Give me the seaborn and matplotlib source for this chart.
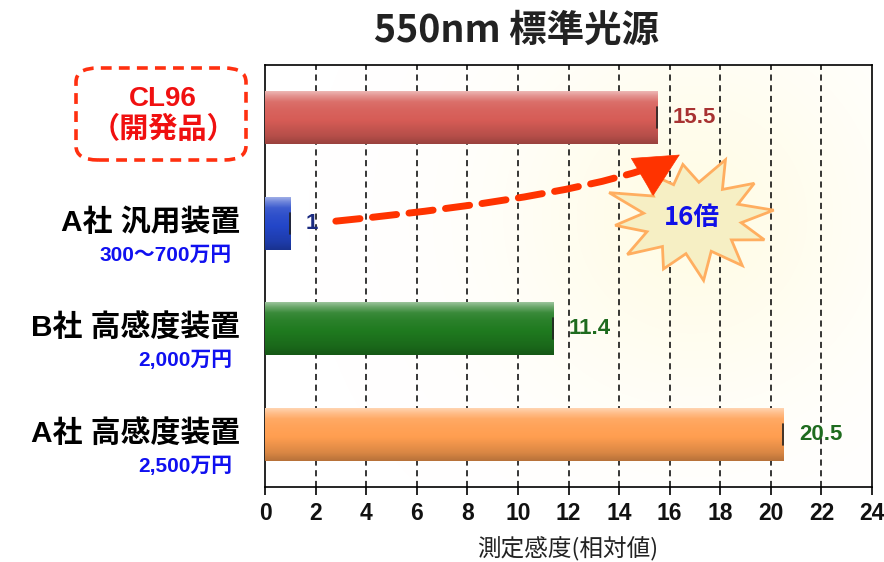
import numpy as np
import pandas as pd
import matplotlib
matplotlib.use("Agg")
import matplotlib.pyplot as plt
import matplotlib.colors as mcolors
import matplotlib.transforms as mtransforms
from matplotlib.patches import FancyBboxPatch, FancyArrowPatch, Polygon
from matplotlib.path import Path
import seaborn as sns

# ---- data ----
devices = ["CL96（開発品）", "A社 汎用装置", "B社 高感度装置", "A社 高感度装置"]
main_labels = ["", "A社 汎用装置", "B社 高感度装置", "A社 高感度装置"]
price_labels = ["", "300～700万円", "2,000万円", "2,500万円"]
sensitivity = [15.5, 1, 11.4, 20.5]
value_texts = ["15.5", "1", "11.4", "20.5"]
x_ticks = [0, 2, 4, 6, 8, 10, 12, 14, 16, 18, 20, 22, 24]
ratio_text = "16倍"

bar_colors = ["#D65C56", "#2346C8", "#1F7A1F", "#FF9E50"]
value_colors = ["#A83232", "#1A2A80", "#1E6B1E", "#1E6B1E"]

LATIN = ["Liberation Sans", "Noto Sans CJK JP", "DejaVu Sans"]

sns.set_theme(style="white")
plt.rcParams["font.family"] = ["Noto Sans CJK JP", "DejaVu Sans"]

fig = plt.figure(figsize=(8.84, 5.62), dpi=100)
ax = fig.add_axes([265 / 884, 1 - 487 / 562, 607 / 884, 422 / 562])

df = pd.DataFrame({"device": devices, "value": sensitivity})
sns.barplot(data=df, y="device", x="value", hue="device", palette=bar_colors,
            orient="h", width=0.5, legend=False, ax=ax, zorder=3,
            edgecolor="none", saturation=1)

ax.set_xlim(0, 24)
ax.set_ylim(3.5, -0.5)

# soft yellow glow behind the burst
cx, cy = 16.9, 0.95
gx = np.linspace(0, 24, 300)
gy = np.linspace(-0.5, 3.5, 200)
GX, GY = np.meshgrid(gx, gy)
d = np.sqrt(((GX - cx) * 25.3) ** 2 + ((GY - cy) * 105.5) ** 2)
glow = np.zeros((200, 300, 4))
glow[..., 0] = 1.0
glow[..., 1] = 0.97
glow[..., 2] = 0.75
glow[..., 3] = 0.38 * np.exp(-(d / 180.0) ** 2)
ax.imshow(glow, extent=(0, 24, 3.5, -0.5), origin="upper", aspect="auto",
          zorder=0.5, interpolation="bilinear")

# glossy shading on each bar
def shade(color):
    base = np.array(mcolors.to_rgb(color))
    t = np.linspace(0, 1, 64)
    keys = [0.0, 0.08, 0.2, 0.35, 0.55, 0.85, 1.0]
    mix = [0.55, 0.35, 0.12, 0.05, 0.0, -0.15, -0.28]
    m = np.interp(t, keys, mix)
    rows = []
    for v in m:
        if v >= 0:
            rows.append(base + (1 - base) * v)
        else:
            rows.append(base * (1 + v))
    arr = np.clip(np.array(rows), 0, 1)
    return arr[:, None, :]

for p, c in zip(ax.patches, bar_colors):
    x0, y0, w, h = p.get_x(), p.get_y(), p.get_width(), p.get_height()
    im = ax.imshow(shade(c), extent=(x0, x0 + w, y0 + h, y0), origin="upper",
                   aspect="auto", zorder=3.1, interpolation="bilinear")
    im.set_clip_path(p)
    ax.plot([x0 + w, x0 + w], [y0 + h * 0.3, y0 + h * 0.7],
            color="#222222", lw=1.2, zorder=3.3)

ax.set_xlim(0, 24)
ax.set_ylim(3.5, -0.5)

# dashed vertical grid
for xv in x_ticks[1:-1]:
    ax.axvline(xv, color="black", lw=1.1, ls=(0, (4, 3)), zorder=1)

ax.set_xticks(x_ticks)
ax.set_xticklabels([str(v) for v in x_ticks], fontsize=16.5, fontweight="bold",
                   family=LATIN, color="#111111")
ax.tick_params(axis="x", direction="out", length=6, width=1.2, color="black",
               bottom=True, pad=5)
ax.tick_params(axis="y", left=False, labelleft=False)
ax.set_ylabel("")
ax.set_xlabel("")
fig.text(568 / 884, 1 - 549 / 562, "測定感度(相対値)", ha="center", va="center",
         fontsize=17, color="#222222")
for s in ax.spines.values():
    s.set_color("black")
    s.set_linewidth(1.2)

# value labels
for i, (v, txt, col) in enumerate(zip(sensitivity, value_texts, value_colors)):
    ax.annotate(txt, xy=(v, i), xytext=(11, 0), textcoords="offset points",
                ha="left", va="center", fontsize=16, fontweight="bold",
                color=col, family=LATIN, zorder=5)

# category labels with price notes
ytrans = ax.get_yaxis_transform()
for i in range(1, len(devices)):
    ax.annotate(main_labels[i], xy=(-0.041, i), xycoords=ytrans,
                ha="right", va="center", fontsize=21.5, fontweight="bold",
                color="black", family=LATIN, annotation_clip=False)
    ax.annotate(price_labels[i], xy=(-0.054, i), xycoords=ytrans,
                xytext=(0, -23), textcoords="offset points",
                ha="right", va="center", fontsize=15, fontweight="bold",
                color="#1010F0", family=LATIN, annotation_clip=False)

# highlighted product label
fig.text(163 / 884, 1 - 99 / 562, "CL96", ha="center", va="center",
         fontsize=20, fontweight="bold", color="#F01010", family=LATIN)
fig.text(163 / 884, 1 - 129 / 562, "（開発品）", ha="center", va="center",
         fontsize=21, fontweight="bold", color="#F01010")
box = FancyBboxPatch((76 / 884, 1 - 160 / 562), 170 / 884, 92 / 562,
                     boxstyle="round,pad=0,rounding_size=0.025",
                     transform=fig.transFigure, fill=False,
                     edgecolor="#FF3010", lw=2.6, ls=(0, (3, 2)))
fig.patches.append(box)

# title
fig.text(517 / 884, 1 - 30 / 562, "550nm 標準光源", ha="center", va="center",
         fontsize=27, fontweight="bold", color="#222222")

# burst with the ratio
angles = np.linspace(0, 2 * np.pi, 25)[:-1] + 0.13
outer = [1.0, 0.95, 1.05, 0.9, 1.0, 1.1, 0.95, 1.0, 0.92, 1.05, 1.0, 0.95]
verts = []
for k, a in enumerate(angles):
    r = outer[k // 2] if k % 2 == 0 else 0.6
    verts.append((0.82 * r * np.cos(a), 0.60 * r * np.sin(a)))
burst_trans = fig.dpi_scale_trans + mtransforms.ScaledTranslation(cx, cy, ax.transData)
burst = Polygon(verts, closed=True, transform=burst_trans, facecolor="#F6EFC4",
                edgecolor="#FFAE60", lw=2, zorder=4)
ax.add_patch(burst)
ax.text(cx, cy, ratio_text, ha="center", va="center", fontsize=18.5,
        fontweight="bold", color="#1010E8", zorder=6)

# curved dashed arrow from the generic device to the new product
p0 = (2.8, 0.98)
p1 = (12.8, 0.74)
p2 = (16.0, 0.40)
tip = (16.4, 0.35)
shaft = Path([p0, p1, p2], [Path.MOVETO, Path.CURVE3, Path.CURVE3])
ax.add_patch(FancyArrowPatch(path=shaft, arrowstyle="-", color="#FF3300",
                             lw=5, ls=(0, (3.5, 1.8)), zorder=5.5))
ax.add_patch(FancyArrowPatch(posA=(15.2, 0.52), posB=tip,
                             arrowstyle="-|>,head_length=1.1,head_width=0.55",
                             mutation_scale=28, color="#FF3300", lw=0.5,
                             shrinkA=0, shrinkB=0, zorder=5.6))

fig.savefig("out.png", dpi=100)
